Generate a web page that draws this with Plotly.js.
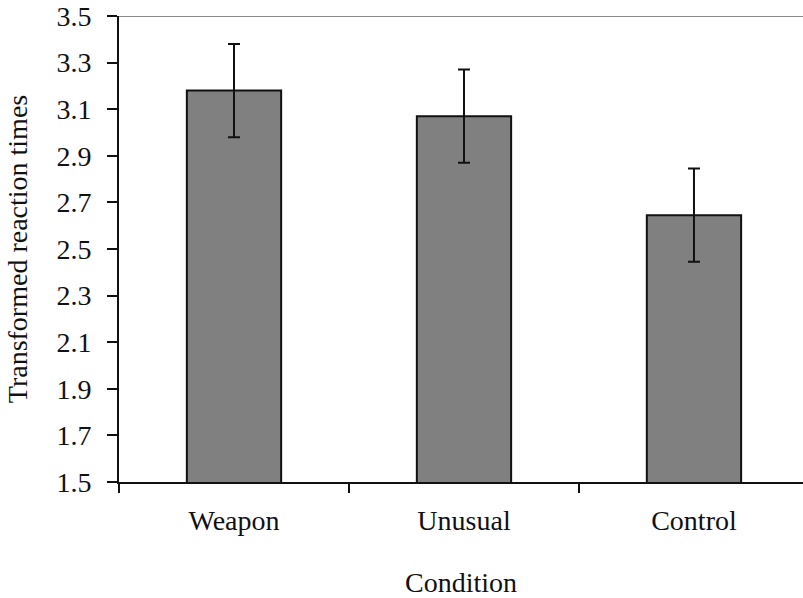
<!DOCTYPE html>
<html>
<head>
<meta charset="utf-8">
<script src="https://cdn.plot.ly/plotly-3.0.1.min.js"></script>
<style>html,body{margin:0;padding:0;background:#fff;}#chart{width:803px;height:598px;}</style>
</head>
<body>
<div id="chart"></div>
<script>
const categories = ["Weapon", "Unusual", "Control"];
const meanValues = [3.18, 3.07, 2.645];
const errorValues = [0.2, 0.2, 0.2];
const yTickValues = [1.5, 1.7, 1.9, 2.1, 2.3, 2.5, 2.7, 2.9, 3.1, 3.3, 3.5];
const yTickLabels = ["1.5", "1.7", "1.9", "2.1", "2.3", "2.5", "2.7", "2.9", "3.1", "3.3", "3.5"];

const fontFamily = "'Liberation Serif', 'Times New Roman', serif";

const trace = {
  type: "bar",
  x: categories,
  y: meanValues,
  marker: { color: "#808080", line: { color: "#111", width: 2 } },
  error_y: { type: "data", array: errorValues, visible: true, color: "#111", thickness: 2, width: 6 },
  hoverinfo: "none"
};

const layout = {
  width: 803,
  height: 598,
  margin: { l: 119, r: 0, t: 16, b: 116 },
  paper_bgcolor: "#fff",
  plot_bgcolor: "#fff",
  bargap: 0.59,
  showlegend: false,
  font: { family: fontFamily, size: 28, color: "#111" },
  xaxis: {
    type: "category",
    range: [-0.5, 2.474],
    showline: true, linecolor: "#111", linewidth: 2,
    ticks: "outside", ticklen: 9, tickwidth: 2, tickcolor: "#111",
    tickson: "boundaries",
    showgrid: false, zeroline: false,
    tickfont: { family: fontFamily, size: 28, color: "#111" },
    ticklabelstandoff: 12,
    title: { text: "Condition", font: { family: fontFamily, size: 28, color: "#111" }, standoff: 40 }
  },
  yaxis: {
    range: [1.5, 3.5],
    tickvals: yTickValues,
    ticktext: yTickLabels,
    showline: true, linecolor: "#111", linewidth: 2,
    ticks: "outside", ticklen: 10, tickwidth: 2, tickcolor: "#111",
    showgrid: false, zeroline: false,
    tickfont: { family: fontFamily, size: 28, color: "#111" },
    ticklabelstandoff: 10,
    title: { text: "Transformed reaction times", font: { family: fontFamily, size: 28, color: "#111" }, standoff: 21 }
  },
  shapes: [{
    type: "line", xref: "paper", yref: "y", x0: 0, x1: 1, y0: 3.5, y1: 3.5,
    line: { color: "#8a8a8a", width: 2 }
  }]
};

Plotly.newPlot("chart", [trace], layout, { displayModeBar: false, staticPlot: true });
</script>
</body>
</html>
